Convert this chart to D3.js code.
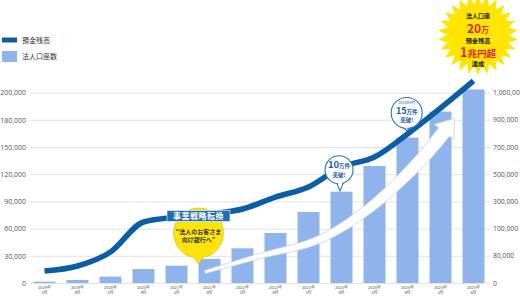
<!DOCTYPE html>
<html>
<head>
<meta charset="utf-8">
<script src="https://cdn.jsdelivr.net/npm/d3@7"></script>
<style>
  body { margin: 0; background: #fff; }
  text { font-family: "Noto Sans CJK JP", "Noto Sans", sans-serif; }
</style>
</head>
<body>
<div id="chart"></div>
<script>
// data
var periods = ["2019年3月", "2019年9月", "2020年3月", "2020年9月", "2021年3月", "2021年9月", "2022年3月",
               "2022年9月", "2023年3月", "2023年9月", "2024年3月", "2024年9月", "2025年3月", "2025年6月"];
// 法人口座数 (left axis)
var accounts = [1500, 3300, 7000, 15400, 19100, 26500, 38300, 55100, 78300, 100700, 129000, 160300, 186000, 202300];
// 預金残高 (right axis)
var deposits = [35300, 50000, 82800, 148500, 185000, 207000, 244000, 332000, 406000, 553000, 626000, 796000, 943000, 1043000];
// tick labels as printed (gridlines are evenly spaced)
var leftTicks = [0, 30000, 60000, 90000, 120000, 150000, 180000, 200000];
var rightTicks = [0, 80000, 100000, 300000, 500000, 700000, 900000, 1000000];

var width = 520, height = 300;
var plotLeft = 30, plotRight = 490, yBottom = 283, yTop = 92.6;

var svg = d3.select("#chart")
  .append("svg")
    .attr("width", width)
    .attr("height", height);

// gridline positions, one per printed tick
var gridY = d3.range(leftTicks.length).map(function(i) {
  return yBottom - i * (yBottom - yTop) / (leftTicks.length - 1);
});

var x = d3.scaleBand()
  .domain(periods)
  .range([28, plotRight])
  .paddingInner(1 / 3)
  .paddingOuter(1 / 6);

var yL = d3.scaleLinear().domain(leftTicks).range(gridY);
var yR = d3.scaleLinear().domain(rightTicks).range(gridY);

// left axis + gridlines
var gLeft = svg.append("g")
  .attr("transform", "translate(" + plotLeft + ",0)")
  .call(d3.axisLeft(yL).tickValues(leftTicks).tickFormat(d3.format(","))
    .tickSize(-(plotRight - plotLeft)).tickPadding(4));
gLeft.select(".domain").remove();
gLeft.selectAll("line").attr("stroke", "#e3e3e3").attr("stroke-width", 1);
gLeft.selectAll("text").attr("fill", "#555").style("font-size", "7px").style("font-family", "Open Sans, sans-serif");

// right axis
var gRight = svg.append("g")
  .attr("transform", "translate(" + plotRight + ",0)")
  .call(d3.axisRight(yR).tickValues(rightTicks).tickFormat(d3.format(",")).tickSize(0).tickPadding(3));
gRight.select(".domain").remove();
gRight.selectAll("text").attr("fill", "#555").style("font-size", "6.8px").style("font-family", "Open Sans, sans-serif");

// bars
svg.append("g")
  .selectAll("rect")
  .data(accounts)
  .enter()
  .append("rect")
    .attr("x", function(d, i) { return x(periods[i]); })
    .attr("y", function(d) { return yL(d); })
    .attr("width", x.bandwidth())
    .attr("height", function(d) { return yBottom - yL(d); })
    .attr("fill", "#8fb4ec");

// x axis labels (two lines)
var gX = svg.append("g")
  .attr("transform", "translate(0," + yBottom + ")")
  .call(d3.axisBottom(x).tickSize(0).tickFormat(""));
gX.select(".domain").remove();
gX.selectAll(".tick text").each(function(d) {
  var parts = d.split("年");
  var t = d3.select(this).attr("y", 0).attr("dy", null).attr("fill", "#555").style("font-size", "4px");
  t.append("tspan").attr("x", 0).attr("y", 6.3).text(parts[0] + "年");
  t.append("tspan").attr("x", 0).attr("y", 11.2).text(parts[1]);
});

// white growth arrow (decoration)
var guidePts = [[205, 272], [260, 256], [318, 240], [367, 210], [418, 163], [444, 132]];
var guide = svg.append("path")
  .attr("d", d3.line().curve(d3.curveCatmullRom)(guidePts))
  .attr("fill", "none");
var node = guide.node(), L = node.getTotalLength();
var sideA = [], sideB = [], N = 60;
for (var i = 0; i <= N; i++) {
  var s = L * i / N;
  var p = node.getPointAtLength(s);
  var p0 = node.getPointAtLength(Math.max(s - 1, 0));
  var p1 = node.getPointAtLength(Math.min(s + 1, L));
  var tx = p1.x - p0.x, ty = p1.y - p0.y, tl = Math.sqrt(tx * tx + ty * ty);
  tx /= tl; ty /= tl;
  var w = 1.6 + 5.4 * i / N;
  sideA.push([p.x - ty * w, p.y + tx * w]);
  sideB.push([p.x + ty * w, p.y - tx * w]);
}
var E = node.getPointAtLength(L);
var Eb = node.getPointAtLength(L - 1);
var ux = E.x - Eb.x, uy = E.y - Eb.y, ul = Math.sqrt(ux * ux + uy * uy);
ux /= ul; uy /= ul;
var head = [[E.x - uy * 12.5, E.y + ux * 12.5], [E.x + ux * 17, E.y + uy * 17], [E.x + uy * 12.5, E.y - ux * 12.5]];
var arrowPoly = sideA.concat(head).concat(sideB.reverse());
guide.remove();
svg.append("path")
  .attr("d", d3.line()(arrowPoly) + "Z")
  .attr("fill", "#fff")
  .attr("stroke", "#c2d3ea")
  .attr("stroke-width", 0.8);

// deposit line
svg.append("path")
  .datum(deposits)
  .attr("d", d3.line()
    .x(function(d, i) { return x(periods[i]) + x.bandwidth() / 2; })
    .y(function(d) { return yR(d); })
    .curve(d3.curveMonotoneX))
  .attr("fill", "none")
  .attr("stroke", "#0b5ea6")
  .attr("stroke-width", 5.5);

// legend
svg.append("rect").attr("x", 2).attr("y", 37.5).attr("width", 15).attr("height", 5).attr("fill", "#0b5ea6");
svg.append("rect").attr("x", 2).attr("y", 51).attr("width", 15).attr("height", 11).attr("fill", "#8fb4ec");
svg.append("text").attr("x", 22).attr("y", 42.5).attr("fill", "#333").style("font-size", "7px").text("預金残高");
svg.append("text").attr("x", 22).attr("y", 59).attr("fill", "#333").style("font-size", "7px").text("法人口座数");

// 事業戦略転換 callout
var cx6 = x(periods[5]);
svg.append("path")
  .attr("d", "M" + (cx6 - 5.5) + ",256 L" + cx6 + ",264 L" + (cx6 + 5.5) + ",256Z")
  .attr("fill", "#ffe40a").attr("stroke", "#c9a800").attr("stroke-width", 0.5);
svg.append("circle").attr("cx", cx6).attr("cy", 233).attr("r", 25)
  .attr("fill", "#ffe40a").attr("stroke", "#c9a800").attr("stroke-width", 0.5);
svg.append("path")
  .attr("d", "M" + (cx6 - 4.8) + ",255.6 L" + cx6 + ",263 L" + (cx6 + 4.8) + ",255.6Z")
  .attr("fill", "#ffe40a");
svg.append("text").attr("x", cx6).attr("y", 233.5).attr("text-anchor", "middle")
  .attr("fill", "#333").style("font-size", "6px").style("font-weight", "bold").text("“法人のお客さま");
svg.append("text").attr("x", cx6).attr("y", 241.5).attr("text-anchor", "middle")
  .attr("fill", "#333").style("font-size", "6px").style("font-weight", "bold").text("向け銀行へ”");
svg.append("rect").attr("x", cx6 - 31.5).attr("y", 210.5).attr("width", 63).attr("height", 11)
  .attr("fill", "#1f6db3").attr("stroke", "#fff").attr("stroke-width", 0.6);
svg.append("text").attr("x", cx6).attr("y", 219).attr("text-anchor", "middle")
  .attr("fill", "#fff").style("font-size", "8px").style("font-weight", "bold").style("letter-spacing", "0.5px").text("事業戦略転換");

// bubble helper
function bubble(cx, cy, r, tipX, tipY) {
  svg.append("path")
    .attr("d", "M" + (tipX - 3.5) + "," + (cy + r - 1.5) + " L" + tipX + "," + tipY + " L" + (tipX + 3.5) + "," + (cy + r - 1.5) + "Z")
    .attr("fill", "#fff").attr("stroke", "#2a77bd").attr("stroke-width", 1.1);
  svg.append("circle").attr("cx", cx).attr("cy", cy).attr("r", r)
    .attr("fill", "#fff").attr("stroke", "#2a77bd").attr("stroke-width", 1.1);
  svg.append("path")
    .attr("d", "M" + (tipX - 2.8) + "," + (cy + r - 2) + " L" + tipX + "," + (tipY - 1.6) + " L" + (tipX + 2.8) + "," + (cy + r - 2) + "Z")
    .attr("fill", "#fff");
}

// 10万件 突破!
var b10x = x(periods[9]) + x.bandwidth() / 2;
var b10y = yL(accounts[9]);
bubble(b10x - 2.5, b10y - 22, 14, b10x - 1.5, b10y - 1);
var t10 = svg.append("text").attr("x", b10x - 2.5).attr("y", b10y - 23.5).attr("text-anchor", "middle")
  .attr("fill", "#1d5fa3").style("font-weight", "bold");
t10.append("tspan").style("font-size", "9.5px").text("10");
t10.append("tspan").style("font-size", "5.5px").text("万件");
svg.append("text").attr("x", b10x - 2.5).attr("y", b10y - 14.5).attr("text-anchor", "middle")
  .attr("fill", "#1d5fa3").style("font-size", "5.5px").style("font-weight", "bold").text("突破!");

// 15万件 突破!
var b15x = x(periods[11]) + x.bandwidth() / 2;
var b15y = yR(deposits[11]);
bubble(b15x - 0.8, b15y - 21, 15.5, b15x - 0.8, b15y - 3);
svg.append("text").attr("x", b15x - 0.8).attr("y", b15y - 29.5).attr("text-anchor", "middle")
  .attr("fill", "#1d5fa3").style("font-size", "3.5px").text("2024年9月");
var t15 = svg.append("text").attr("x", b15x - 0.8).attr("y", b15y - 19.5).attr("text-anchor", "middle")
  .attr("fill", "#1d5fa3").style("font-weight", "bold");
t15.append("tspan").style("font-size", "9px").text("15");
t15.append("tspan").style("font-size", "5.5px").text("万件");
svg.append("text").attr("x", b15x - 0.8).attr("y", b15y - 11.5).attr("text-anchor", "middle")
  .attr("fill", "#1d5fa3").style("font-size", "5.5px").style("font-weight", "bold").text("突破!");

// starburst
var starC = [478, 35], nPts = 26;
var starPts = d3.range(nPts * 2).map(function(k) {
  var a = k * Math.PI / nPts - Math.PI / 2;
  var r = k % 2 === 0 ? 40 : 31;
  return [starC[0] + r * Math.cos(a), starC[1] + r * Math.sin(a)];
});
svg.append("path").attr("d", d3.line()(starPts) + "Z").attr("fill", "#ffe500");

function starText(y, parts) {
  var t = svg.append("text").attr("x", starC[0]).attr("y", y).attr("text-anchor", "middle")
    .style("font-weight", "bold");
  parts.forEach(function(p) {
    t.append("tspan").style("font-size", p[1] + "px").attr("fill", p[2]).text(p[0]);
  });
}
starText(17.5, [["法人口座", 6, "#222"]]);
starText(33, [["20", 12, "#e52420"], ["万", 8, "#e52420"]]);
starText(42.5, [["預金残高", 6.2, "#222"]]);
starText(57, [["1", 12.5, "#e52420"], ["兆円超", 9.5, "#e52420"]]);
starText(66, [["達成", 6.2, "#222"]]);
</script>
</body>
</html>
